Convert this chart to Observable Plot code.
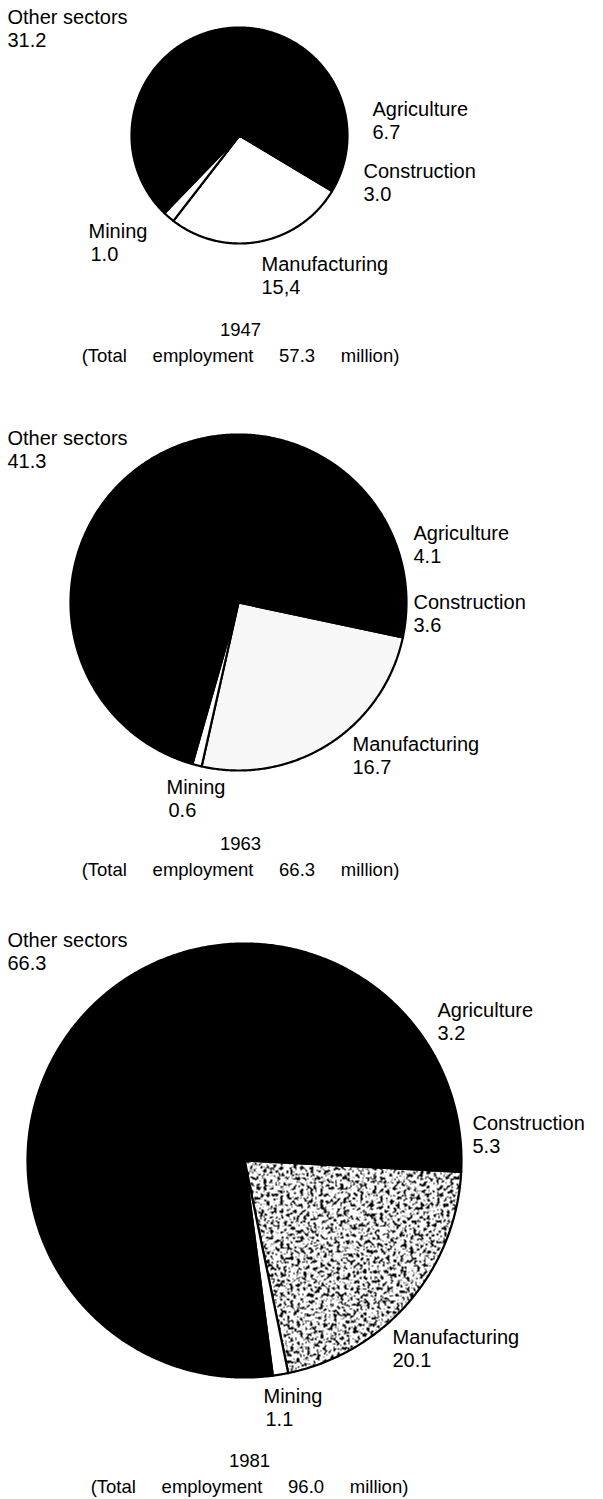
<!DOCTYPE html>
<html><head><meta charset="utf-8">
<script src="https://cdn.jsdelivr.net/npm/d3@7"></script>
<script src="https://cdn.jsdelivr.net/npm/@observablehq/plot@0.6"></script>
<style>html,body{margin:0;padding:0;background:#fff}#chart svg{display:block}</style>
</head><body><div id="chart"></div>
<script>
// ---- data (million persons employed) ----
const years = ["1947", "1963", "1981"];
const totals = [57.3, 66.3, 96.0];
const sectors = ["Manufacturing", "Mining", "Other sectors", "Agriculture", "Construction"];
const manufacturing = [15.4, 16.7, 20.1];
const mining = [1.0, 0.6, 1.1];
const otherSectors = [31.2, 41.3, 66.3];
const agriculture = [6.7, 4.1, 3.2];
const construction = [3.0, 3.6, 5.3];
const valueText = {
  "Manufacturing": ["15,4", "16.7", "20.1"],
  "Mining": ["1.0", "0.6", "1.1"],
  "Other sectors": ["31.2", "41.3", "66.3"],
  "Agriculture": ["6.7", "4.1", "3.2"],
  "Construction": ["3.0", "3.6", "5.3"]
};
const seriesBySector = {
  "Manufacturing": manufacturing, "Mining": mining, "Other sectors": otherSectors,
  "Agriculture": agriculture, "Construction": construction
};

// ---- layout ----
const W = 603, H = 1499;
const pies = [
  {cx: 239, cy: 135, r: 108, start: 31},
  {cx: 238, cy: 602, r: 168, start: 12},
  {cx: 244, cy: 1160, r: 217, start: 3}
];
const manufFill = ["#ffffff", "#f7f7f7", "url(#speckle) #a4a4a4"];
const sectorFill = s => s === "Manufacturing" ? null : s === "Mining" ? "#ffffff" : "#000000";
const labelPos = [
  {"Other sectors": [7, 17], "Agriculture": [372, 109], "Construction": [363, 171], "Mining": [88, 231], "Manufacturing": [261, 264], title: [240, 330]},
  {"Other sectors": [7, 438], "Agriculture": [413, 533], "Construction": [413, 602], "Mining": [166, 787], "Manufacturing": [352, 744], title: [240, 844]},
  {"Other sectors": [7, 940], "Agriculture": [437, 1010], "Construction": [472, 1123], "Mining": [263, 1396], "Manufacturing": [392, 1337], title: [249, 1461]}
];
const lineGap = 23;

// ---- build slice polygons ----
const slicePts = [];
years.forEach((yr, i) => {
  const p = pies[i];
  let a = p.start;
  sectors.forEach(s => {
    const v = seriesBySector[s][i];
    const span = v / totals[i] * 360;
    const a0 = a, a1 = a + span;
    const key = yr + "-" + s;
    const fill = sectorFill(s) || manufFill[i];
    slicePts.push({key, fill, x: p.cx, y: p.cy});
    const n = Math.max(2, Math.ceil(span / 0.5));
    for (let k = 0; k <= n; k++) {
      const t = (a0 + (a1 - a0) * k / n) * Math.PI / 180;
      slicePts.push({key, fill, x: p.cx + p.r * Math.cos(t), y: p.cy + p.r * Math.sin(t)});
    }
    slicePts.push({key, fill, x: p.cx, y: p.cy});
    a = a1;
  });
});

// ---- labels ----
const labelRows = [];
const titleRows = [];
years.forEach((yr, i) => {
  const L = labelPos[i];
  sectors.forEach(s => {
    const [x, y] = L[s];
    const weight = (i === 2 && s === "Mining") ? "bold" : "normal";
    labelRows.push({x, y, text: s, weight});
    labelRows.push({x: s === "Mining" ? x + 2 : x, y: y + lineGap, text: valueText[s][i], weight: "normal"});
  });
  const [tx, ty] = L.title;
  titleRows.push({x: tx, y: ty, text: yr});
  const sp = "\u00a0\u00a0\u00a0\u00a0 ";
  titleRows.push({x: tx, y: ty + 26, text: "(Total" + sp + "employment" + sp + totals[i].toFixed(1) + sp + "million)"});
});

const chart = Plot.plot({
  width: W, height: H, margin: 0,
  x: {domain: [0, W], axis: null},
  y: {domain: [0, H], reverse: true, axis: null},
  color: {type: "identity"},
  style: {fontFamily: "'Liberation Sans', Arial, Helvetica, sans-serif", fontSize: "16px", background: "#fff", color: "#000"},
  marks: [
    Plot.line(slicePts, {x: "x", y: "y", z: "key", fill: "fill", stroke: "#000", strokeWidth: 2.2, strokeLinejoin: "round", curve: "linear"}),
    Plot.text(labelRows, {x: "x", y: "y", text: "text", textAnchor: "start", lineAnchor: "middle", fill: "#000", fontSize: 20, fontWeight: d => d.weight, letterSpacing: "0.4px"}),
    Plot.text(titleRows, {x: "x", y: "y", text: "text", textAnchor: "middle", lineAnchor: "middle", fill: "#000", fontSize: 18.5})
  ]
});
// speckled screen texture used by the printed 1981 manufacturing slice
d3.select(chart).insert("defs", ":first-child").html(
  '<filter id="noiseF" x="0" y="0" width="1" height="1" color-interpolation-filters="sRGB">' +
  '<feTurbulence type="fractalNoise" baseFrequency="0.3" numOctaves="4" seed="4" result="t"/>' +
  '<feColorMatrix in="t" type="matrix" values="0 0 0 0 0  0 0 0 0 0  0 0 0 0 0  16 0 0 0 -8.7"/>' +
  '</filter>' +
  '<pattern id="speckle" patternUnits="userSpaceOnUse" width="260" height="260">' +
  '<rect width="260" height="260" fill="#ffffff"/>' +
  '<rect width="260" height="260" fill="#000" filter="url(#noiseF)"/>' +
  '</pattern>'
);
document.getElementById("chart").appendChild(chart);
</script>
</body></html>
